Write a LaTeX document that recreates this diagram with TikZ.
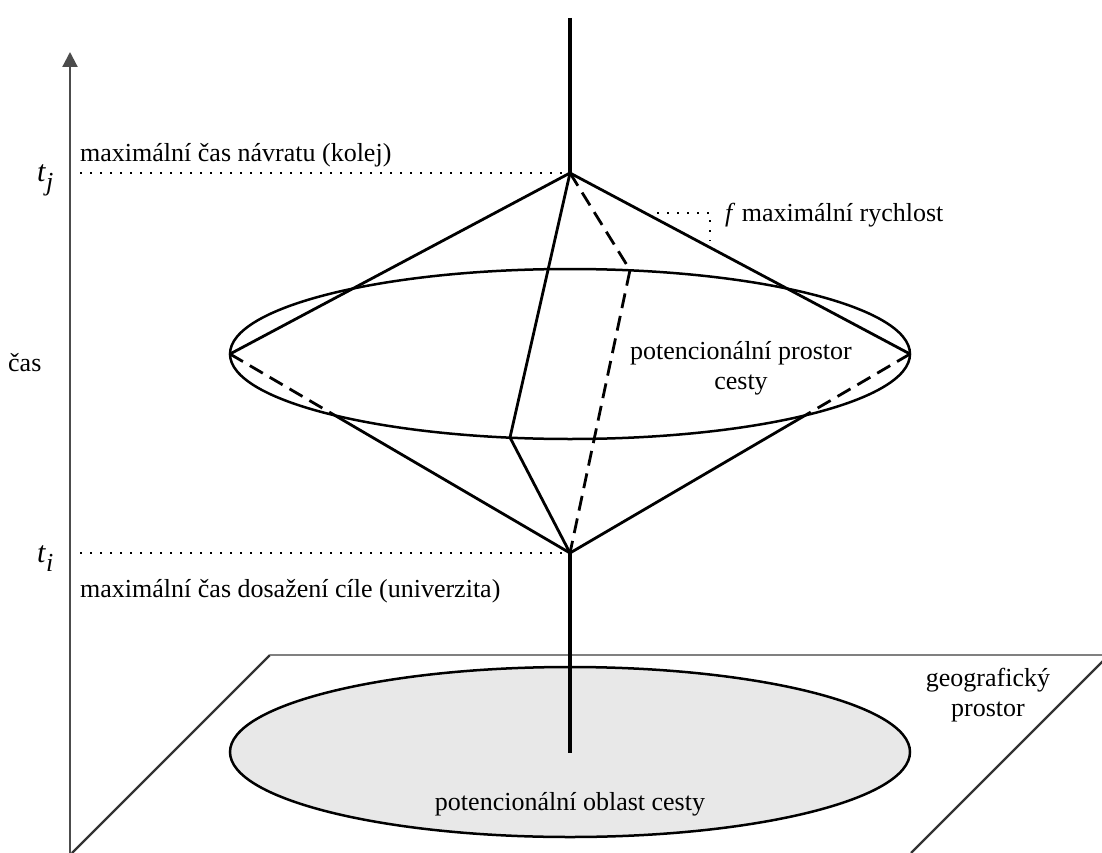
\documentclass[tikz,border=0pt]{standalone}
\usepackage{fontspec}
\setmainfont{Liberation Serif}
\usetikzlibrary{arrows.meta,calc}
\tikzset{
  lbl/.style={inner sep=0pt, font=\fontsize{26}{30}\selectfont},
  cone/.style={line width=2.8pt, line cap=round},
  hidden/.style={line width=2.8pt, dash pattern=on 15pt off 8pt},
  guide/.style={line width=2pt, dash pattern=on 2pt off 8pt},
  pole/.style={line width=4.4pt},
  rim/.style={line width=2.5pt},
}
\begin{document}
\begin{tikzpicture}[x=1pt,y=-1pt]
\useasboundingbox (0,0) rectangle (1102,853);
\clip (0,0) rectangle (1102,853);
% coordinates
\coordinate (top) at (570,173);
\coordinate (bot) at (570,553);
\coordinate (L) at (230,354);
\coordinate (R) at (910,354);
\coordinate (F) at (510,437.5);
\coordinate (B) at (630,270);
\coordinate (poletop) at (570,18);
\coordinate (polebot) at (570,753);
\coordinate (axb) at (70,853);
\coordinate (axt) at (70,52);
\coordinate (tjL) at (80,173);
\coordinate (tiL) at (80,553);
\coordinate (fa) at (657,213);
\coordinate (fb) at (710,213);
\coordinate (fc) at (710,241);
% plane
\draw[line width=2.2pt, black!80] (72,853) -- (270,655);
\draw[line width=2.2pt, black!80] (1109,655) -- (911,853);
\draw[line width=2.8pt, black!50] (270,655) -- (1109,655);
% ground ellipse
\draw[rim, fill=black!9] (570,752) ellipse [x radius=340pt, y radius=85pt];
% time axis
\draw[line width=2.2pt, black!70, -{Triangle[width=15pt,length=15pt]}] (axb) -- (axt);
% dotted guides
\draw[guide] (tjL) -- (top);
\draw[guide] (tiL) -- (bot);
\draw[guide] (fa) -- (fb) -- (fc);
% pole
\draw[pole] (poletop) -- (top);
\draw[pole] (bot) -- (polebot);
% ellipse of prism
\draw[rim] (570,354) ellipse [x radius=340pt, y radius=85pt];
% cone
\draw[cone] (L) -- (top) -- (R);
\draw[cone] (top) -- (F) -- (bot);
\draw[hidden] (top) -- (B) -- (bot);
\coordinate (Lx) at ($(L)!0.3086!(bot)$);
\coordinate (Rx) at ($(R)!0.3086!(bot)$);
\draw[hidden] (L) -- (Lx);
\draw[hidden] (R) -- (Rx);
\draw[cone] (Lx) -- (bot) -- (Rx);
% labels
\node[lbl, anchor=base west] (lkolej) at (80,162) {maximální čas návratu (kolej)};
\node[lbl, anchor=base west] (luni) at (80,597) {maximální čas dosažení cíle (univerzita)};
\node[lbl, anchor=base west] (ltj) at (37,182) {\fontsize{30}{30}\selectfont\textit{t}\raisebox{-0.3em}{\fontsize{26}{26}\selectfont\textit{j}}};
\node[lbl, anchor=base west] (lti) at (37,562) {\fontsize{30}{30}\selectfont\textit{t}\raisebox{-0.3em}{\fontsize{26}{26}\selectfont\textit{i}}};
\node[lbl, anchor=base west] (lcas) at (8,371) {čas};
\node[lbl, anchor=base west] (lrych) at (725,221) {\textit{f} maximální rychlost};
\node[lbl, align=center, anchor=north] (lprostor) at (741,341) {potencionální prostor\\cesty};
\node[lbl, align=center, anchor=north] (lgeo) at (988,668) {geografický\\prostor};
\node[lbl, anchor=base] (loblast) at (570,810) {potencionální oblast cesty};
\end{tikzpicture}
\end{document}
